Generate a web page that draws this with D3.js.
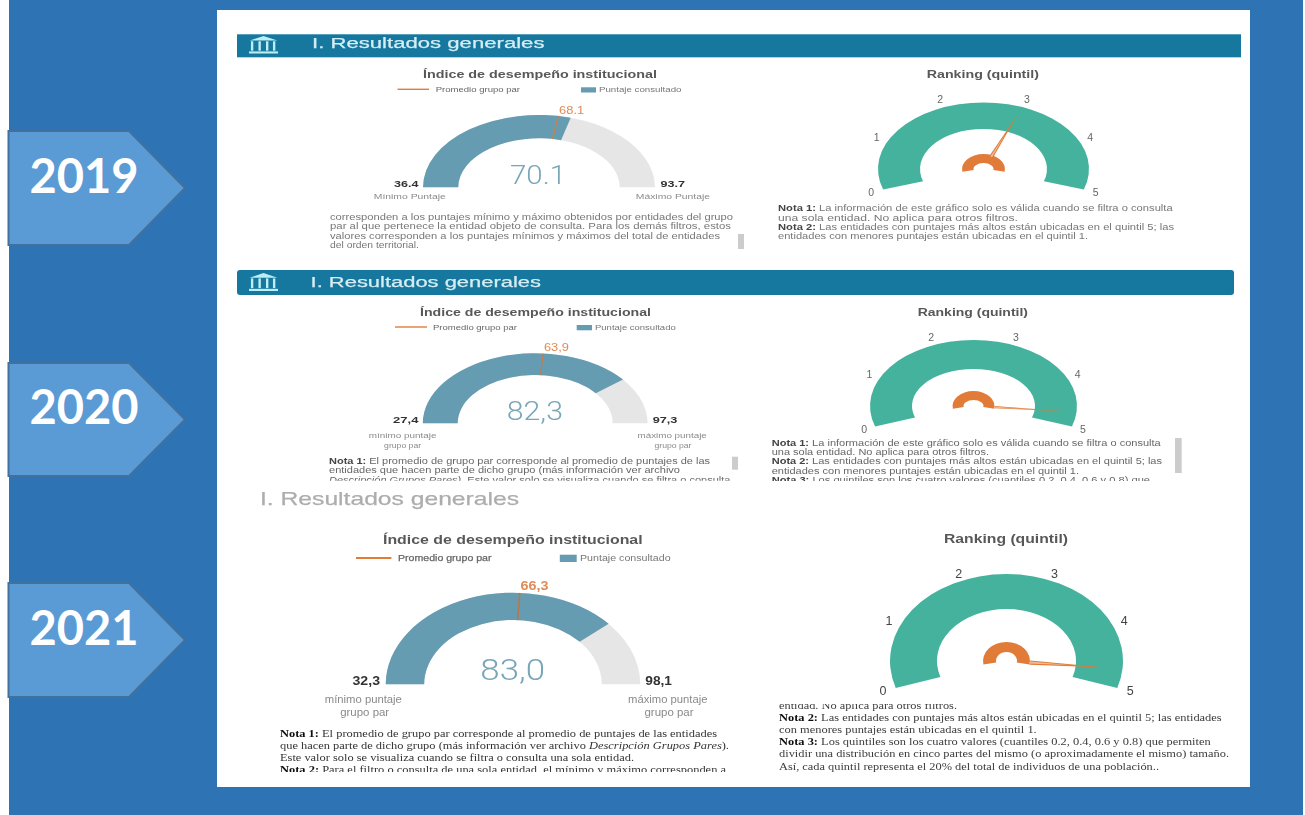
<!DOCTYPE html>
<html lang="es">
<head>
<meta charset="utf-8">
<title>Resultados generales 2019-2021</title>
<script src="https://cdn.jsdelivr.net/npm/d3@7/dist/d3.min.js"></script>
<style>
html,body{margin:0;padding:0;background:#fff;overflow:hidden}
svg{display:block}
</style>
</head>
<body>
<svg id="chart" width="1305" height="815"></svg>
<script>
// ---------- data ----------
const years = ["2019", "2020", "2021"];
const scores = [70.1, 82.3, 83.0];
const groupAverages = [68.1, 63.9, 66.3];
const minimums = [36.4, 27.4, 32.3];
const maximums = [93.7, 97.3, 98.1];
const quintileValues = [3.0, 4.7, 4.7];
const quintileTicks = [0, 1, 2, 3, 4, 5];
const decimalMarks = [".", ",", ","];

const sectionTitle = "I. Resultados generales";
const gaugeTitle = "Índice de desempeño institucional";
const rankingTitle = "Ranking (quintil)";
const legendAverage = "Promedio grupo par";
const legendScore = "Puntaje consultado";
const minimumLabels = [["Mínimo Puntaje"], ["mínimo puntaje", "grupo par"], ["mínimo puntaje", "grupo par"]];
const maximumLabels = [["Máximo Puntaje"], ["máximo puntaje", "grupo par"], ["máximo puntaje", "grupo par"]];

const leftNotes = [
  [[["corresponden a los puntajes mínimo y máximo obtenidos por entidades del grupo"]],
   [["par al que pertenece la entidad objeto de consulta. Para los demás filtros, estos"]],
   [["valores corresponden a los puntajes mínimos y máximos del total de entidades"]],
   [["del orden territorial."]]],
  [[["Nota 1:", "b"], [" El promedio de grupo par corresponde al promedio de puntajes de las"]],
   [["entidades que hacen parte de dicho grupo (más información ver archivo"]],
   [["Descripción Grupos Pares).", "i"], [" Este valor solo se visualiza cuando se filtra o consulta"]]],
  [[["Nota 1:", "b"], [" El promedio de grupo par corresponde al promedio de puntajes de las entidades"]],
   [["que hacen parte de dicho grupo (más información ver archivo "], ["Descripción Grupos Pares", "i"], [")."]],
   [["Este valor solo se visualiza cuando se filtra o consulta una sola entidad."]],
   [["Nota 2:", "b"], [" Para el filtro o consulta de una sola entidad, el mínimo y máximo corresponden a"]]]
];
const rightNotes = [
  [[["Nota 1:", "b"], [" La información de este gráfico solo es válida cuando se filtra o consulta"]],
   [["una sola entidad. No aplica para otros filtros."]],
   [["Nota 2:", "b"], [" Las entidades con puntajes más altos están ubicadas en el quintil 5; las"]],
   [["entidades con menores puntajes están ubicadas en el quintil 1."]]],
  [[["Nota 1:", "b"], [" La información de este gráfico solo es válida cuando se filtra o consulta"]],
   [["una sola entidad. No aplica para otros filtros."]],
   [["Nota 2:", "b"], [" Las entidades con puntajes más altos están ubicadas en el quintil 5; las"]],
   [["entidades con menores puntajes están ubicadas en el quintil 1."]],
   [["Nota 3:", "b"], [" Los quintiles son los cuatro valores (cuantiles 0.2, 0.4, 0.6 y 0.8) que"]]],
  [[["entidad. No aplica para otros filtros."]],
   [["Nota 2:", "b"], [" Las entidades con puntajes más altos están ubicadas en el quintil 5; las entidades"]],
   [["con menores puntajes están ubicadas en el quintil 1."]],
   [["Nota 3:", "b"], [" Los quintiles son los cuatro valores (cuantiles 0.2, 0.4, 0.6 y 0.8) que permiten"]],
   [["dividir una distribución en cinco partes del mismo (o aproximadamente el mismo) tamaño."]],
   [["Así, cada quintil representa el 20% del total de individuos de una población.."]]]
];

// ---------- layout ----------
const layout = [
  { blur:0.7, tickFs:10.5, tickFill:"#666", avgLine:1.2, avgStroke:"#E07B39", avgWeight:400, legendLine:1.4, legendStroke:0,
    arrow:{top:131,bottom:245,tip:185,shoulder:129,text:193},
    header:{x0:237,x1:1241,y0:34.3,y1:57.3,r:0},
    sectionText:{x0:312,x1:544.5,y:48,fs:15.5,fill:"#d6edf4"},
    icon:{x:249,y:36,w:29,h:17.5},
    gaugeTitle:{x0:423,x1:657,y:78.3,fs:10.5},
    legend:{lx0:397.5,lx1:429,ly:89.3,tx0:435.7,tx1:520,ty:92,rx0:581,rx1:596,ry0:87.3,ry1:92.5,sx0:599,sx1:681.5,fs:7.2},
    gauge:{cx:539,cy:187.3,rx:116,ry:72.3,irx:80.7,iry:49},
    avg:{cx:571.6,y:114.3,fs:10,w:25},
    score:{x0:510,x1:566,y:183.5,fs:25},
    minV:{x0:394,x1:418.4,y:187.3,fs:9.5}, maxV:{x0:660.5,x1:685,y:187.3,fs:9.5},
    minL:{x0:373.8,x1:445.8,ys:[199.3],fs:7.2}, maxL:{x0:635.8,x1:710,ys:[199.3],fs:7.2},
    ln:{x:330,ys:[219.8,229.2,238.5,247.5],ends:[733,731,720,419],fs:9.1,clip:[205,254],font:"sans",fill:"#777"},
    sbL:{x:738,y0:234,y1:249},
    rTitle:{x0:926.7,x1:1039,y:78,fs:10.5},
    rank:{cx:983.5,cy:169,rx:105.5,ry:66.5,irx:63.5,iry:40,lrx:118,lry:75,prx:21.5,pry:15,pirx:10,piry:6,needle:92,base:21,nw:2.2},
    rn:{x:778,ys:[210.5,220.5,229.5,239],ends:[1172.7,1018,1174,1088],fs:9.1,clip:[198,254],font:"sans",fill:"#777"}
  },
  { blur:0.55, tickFs:10.5, tickFill:"#666", avgLine:1.4, avgStroke:"#C9794A", avgWeight:400, legendLine:1.4, legendStroke:0,
    arrow:{top:363,bottom:476,tip:185,shoulder:129,text:424},
    header:{x0:237,x1:1234,y0:270,y1:295,r:3},
    sectionText:{x0:310.6,x1:541,y:286.5,fs:15.5,fill:"#d6edf4"},
    icon:{x:249,y:273,w:29,h:18},
    gaugeTitle:{x0:420,x1:651,y:315.7,fs:10.5},
    legend:{lx0:395,lx1:427,ly:327,tx0:433,tx1:517,ty:330,rx0:576.7,rx1:592,ry0:325,ry1:330.3,sx0:595,sx1:675.7,fs:7.2},
    gauge:{cx:535.2,cy:423.3,rx:112.4,ry:70,irx:77.5,iry:48.3},
    avg:{cx:556.4,y:351,fs:10,w:25},
    score:{x0:506.7,x1:563,y:419.5,fs:25},
    minV:{x0:393,x1:418.4,y:423.3,fs:9.5}, maxV:{x0:652.7,x1:677.4,y:423.3,fs:9.5},
    minL:{x0:368.7,x1:436.4,ys:[438.3,448.3],fs:7.2,c:402.6,w:37}, maxL:{x0:637.5,x1:706.8,ys:[438.3,448.3],fs:7.2,c:673,w:37},
    ln:{x:329,ys:[464,473.3,482.7],ends:[710,680,730.5],fs:9.2,clip:[450,480.7],font:"sans",fill:"#666"},
    sbL:{x:732,y0:456.7,y1:469.7},
    sbR:{x:1175,y0:438,y1:473},
    rTitle:{x0:917.7,x1:1028,y:315.7,fs:10.5},
    rank:{cx:973.5,cy:406,rx:103.5,ry:66,irx:61.5,iry:37,lrx:115,lry:74,prx:21,pry:15,pirx:10,piry:6,needle:92,base:21,nw:1.8},
    rn:{x:771.7,ys:[445.7,455,464,473.7,482.7],ends:[1160.7,989,1162,1079,1150],fs:9.2,clip:[434,481],font:"sans",fill:"#666"}
  },
  { blur:0.35, tickFs:12.5, tickFill:"#444", avgLine:1.8, avgStroke:"#B9764A", avgWeight:700, legendLine:2, legendStroke:0.25,
    arrow:{top:583,bottom:697,tip:185,shoulder:129,text:645},
    header:null,
    sectionText:{x0:260,x1:519,y:505,fs:19,fill:"#adadad"},
    icon:null,
    gaugeTitle:{x0:383,x1:642.6,y:544,fs:13},
    legend:{lx0:356,lx1:391.4,ly:558,tx0:398,tx1:491.5,ty:561.3,rx0:559.8,rx1:576.7,ry0:554.7,ry1:562,sx0:580,sx1:670.6,fs:9.5},
    gauge:{cx:513,cy:684.3,rx:127.3,ry:91.6,irx:88.8,iry:64.3},
    avg:{cx:534.4,y:590,fs:12,w:28},
    score:{x0:480.3,x1:545,y:679.5,fs:30},
    minV:{x0:352.5,x1:380,y:684.7,fs:12}, maxV:{x0:645.3,x1:672,y:684.7,fs:12},
    minL:{x0:324.8,x1:401.9,ys:[703,716],fs:10,c:364.7,w:49}, maxL:{x0:628,x1:707.5,ys:[702.7,715.7],fs:10,c:669,w:49},
    ln:{x:280,ys:[737.3,749.3,761.3,773.3],ends:[717,729,634,726],fs:11.2,clip:[725,771.7],font:"serif",fill:"#333"},
    sbL:null,
    rTitle:{x0:944,x1:1068,y:543,fs:13},
    rank:{cx:1006.5,cy:661,rx:116.5,ry:87,irx:69.5,iry:52,lrx:130,lry:94,prx:23.5,pry:19,pirx:10.5,piry:9,needle:99,base:23.5,nw:2.8},
    rn:{x:779,ys:[708.7,720.7,733.4,745,757.4,770],ends:[957,1221.7,1036.7,1210.7,1229,1159],fs:11.2,clip:[704.5,787],font:"serif",fill:"#3c3c3c"}
  }
];
const rankingSweep = 108 * Math.PI / 180;   // gauge opens ±108° from the top
const colors = {bg:"#2E74B5",arrow:"#5B9BD5",arrowEdge:"#41719C",header:"#12789F",score:"#659CB1",rest:"#E6E6E6",rank:"#45B29D",accent:"#E07B39",muted:"#78A6B7"};
const SANS = "'Liberation Sans',Arial,sans-serif";
const SERIF = "'Liberation Serif','Times New Roman',serif";

// ---------- drawing ----------
const svg = d3.select("#chart");
const defs = svg.append("defs");

svg.append("rect").attr("width",1305).attr("height",815).attr("fill","#fff");
svg.append("rect").attr("x",9).attr("y",0).attr("width",1294).attr("height",815).attr("fill",colors.bg);
svg.append("rect").attr("x",217).attr("y",10).attr("width",1033).attr("height",777).attr("fill","#fff");

function fitted(g, text, x0, x1, y, fs, opts={}) {
  return g.append("text").attr("x",x0).attr("y",y).text(text)
    .attr("font-family",opts.font||SANS).attr("font-size",fs)
    .attr("font-weight",opts.weight||400).attr("fill",opts.fill||"#666")
    .attr("stroke",opts.stroke?(opts.fill||"#666"):null).attr("stroke-width",opts.stroke||null)
    .attr("textLength",Math.max(1,x1-x0)).attr("lengthAdjust","spacingAndGlyphs");
}
function centered(g, text, cx, y, fs, opts={}) {
  return g.append("text").attr("x",cx).attr("y",y).text(text).attr("text-anchor","middle")
    .attr("font-family",opts.font||SANS).attr("font-size",fs)
    .attr("font-weight",opts.weight||400).attr("fill",opts.fill||"#666");
}
function noteBlock(g, spec, lines, id) {
  defs.append("clipPath").attr("id",id).append("rect")
    .attr("x",spec.x-5).attr("y",spec.clip[0]).attr("width",480).attr("height",spec.clip[1]-spec.clip[0]);
  const box = g.append("g").attr("clip-path",`url(#${id})`);
  lines.forEach((runs,i) => {
    const t = box.append("text").attr("x",spec.x).attr("y",spec.ys[i])
      .attr("font-family",spec.font==="serif"?SERIF:SANS).attr("font-size",spec.fs).attr("fill",spec.fill)
      .attr("textLength",spec.ends[i]-spec.x).attr("lengthAdjust","spacingAndGlyphs")
      .attr("xml:space","preserve");
    runs.forEach(([s,style]) => {
      const ts = t.append("tspan").text(s);
      if (style==="b") ts.attr("font-weight",700).attr("fill",spec.font==="serif"?"#111":"#444");
      if (style==="i") ts.attr("font-style","italic");
    });
  });
}
// an annular sector whose horizontal and vertical radii differ, as in the flattened screenshots
function ellipseRing(g, cx, cy, a0, a1, rx, ry, irx, iry, fill) {
  const pt = (a,rxx,ryy)=>[cx+rxx*Math.sin(a), cy-ryy*Math.cos(a)];
  const [ox0,oy0]=pt(a0,rx,ry),[ox1,oy1]=pt(a1,rx,ry),[ix1,iy1]=pt(a1,irx,iry),[ix0,iy0]=pt(a0,irx,iry);
  const large = (a1-a0)>Math.PI?1:0;
  const d = `M${ox0},${oy0}A${rx},${ry} 0 ${large} 1 ${ox1},${oy1}L${ix1},${iy1}A${irx},${iry} 0 ${large} 0 ${ix0},${iy0}Z`;
  return g.append("path").attr("d",d).attr("fill",fill);
}

years.forEach((year,i) => {
  const L = layout[i];
  const soft = defs.append("filter").attr("id","soft"+i).attr("x","-5%").attr("y","-5%").attr("width","110%").attr("height","110%");
  soft.append("feGaussianBlur").attr("stdDeviation",L.blur);

  // year arrow
  const a = L.arrow, mid=(a.top+a.bottom)/2;
  const arrowLine = d3.line();
  svg.append("path").attr("d",arrowLine([[8.5,a.top],[a.shoulder,a.top],[a.tip,mid],[a.shoulder,a.bottom],[8.5,a.bottom]])+"Z")
    .attr("fill",colors.arrow).attr("stroke",colors.arrowEdge).attr("stroke-width",2);
  svg.append("text").attr("x",84).attr("y",a.text).attr("text-anchor","middle").text(year)
    .attr("font-family","Lato,'Open Sans',sans-serif").attr("font-weight",700).attr("font-size",47).attr("fill","#fff");

  const g = svg.append("g").attr("class","panel-"+year).attr("filter",`url(#soft${i})`);
  const col = colors;
  // section header
  if (L.header) {
    const h=L.header;
    g.append("rect").attr("x",h.x0).attr("y",h.y0).attr("width",h.x1-h.x0).attr("height",h.y1-h.y0).attr("rx",h.r).attr("fill",col.header);
  }
  if (L.icon) {
    const ic=L.icon, ig=g.append("g").attr("fill","#BDEDF5");
    const ix=d3.scaleLinear().domain([0,10]).range([ic.x,ic.x+ic.w]);
    const iy=d3.scaleLinear().domain([0,10]).range([ic.y,ic.y+ic.h]);
    ig.append("path").attr("d",d3.line()([[ix(0.2),iy(2.6)],[ix(5),iy(0)],[ix(9.8),iy(2.6)]])+"Z");
    [1,3.6,6.2,8.6].forEach(p=>ig.append("rect").attr("x",ix(p)-1).attr("y",iy(3)).attr("width",2.4).attr("height",iy(8.4)-iy(3)));
    ig.append("rect").attr("x",ix(0)).attr("y",iy(8.8)).attr("width",ic.w).attr("height",iy(10)-iy(8.8));
  }
  const st=L.sectionText;
  fitted(g,sectionTitle,st.x0,st.x1,st.y,st.fs,{fill:st.fill,stroke:0.25});

  // score gauge
  const gt=L.gaugeTitle;
  fitted(g,gaugeTitle,gt.x0,gt.x1,gt.y,gt.fs,{weight:700,fill:"#595959"});
  const lg=L.legend;
  g.append("line").attr("x1",lg.lx0).attr("x2",lg.lx1).attr("y1",lg.ly).attr("y2",lg.ly).attr("stroke",col.accent).attr("stroke-width",L.legendLine);
  fitted(g,legendAverage,lg.tx0,lg.tx1,lg.ty,lg.fs,{fill:"#666",stroke:L.legendStroke});
  g.append("rect").attr("x",lg.rx0).attr("y",lg.ry0).attr("width",lg.rx1-lg.rx0).attr("height",lg.ry1-lg.ry0).attr("fill",col.score);
  fitted(g,legendScore,lg.sx0,lg.sx1,lg.ty,lg.fs,{fill:"#777"});

  const G=L.gauge;
  const angle=d3.scaleLinear().domain([minimums[i],maximums[i]]).range([-Math.PI/2,Math.PI/2]);
  ellipseRing(g,G.cx,G.cy,-Math.PI/2,Math.PI/2,G.rx,G.ry,G.irx,G.iry,col.rest);
  ellipseRing(g,G.cx,G.cy,-Math.PI/2,angle(scores[i]),G.rx,G.ry,G.irx,G.iry,col.score);
  const av=angle(groupAverages[i]);
  g.append("line")
    .attr("x1",G.cx+G.irx*Math.sin(av)).attr("y1",G.cy-G.iry*Math.cos(av))
    .attr("x2",G.cx+G.rx*Math.sin(av)).attr("y2",G.cy-G.ry*Math.cos(av))
    .attr("stroke",L.avgStroke).attr("stroke-width",L.avgLine).attr("opacity",.85);
  const fmt=v=>v.toFixed(1).replace(".",decimalMarks[i]);
  centered(g,fmt(groupAverages[i]),L.avg.cx,L.avg.y,L.avg.fs,{fill:"#E08A55",weight:L.avgWeight}).attr("textLength",L.avg.w).attr("lengthAdjust","spacingAndGlyphs");
  fitted(g,fmt(scores[i]),L.score.x0,L.score.x1,L.score.y,L.score.fs,{font:"Roboto,sans-serif",weight:300,fill:col.muted});
  fitted(g,fmt(minimums[i]),L.minV.x0,L.minV.x1,L.minV.y,L.minV.fs,{weight:700,fill:"#333"});
  fitted(g,fmt(maximums[i]),L.maxV.x0,L.maxV.x1,L.maxV.y,L.maxV.fs,{weight:700,fill:"#333"});
  [[L.minL,minimumLabels[i]],[L.maxL,maximumLabels[i]]].forEach(([s,lines])=>{
    lines.forEach((t,k)=>{
      if(k===0) fitted(g,t,s.x0,s.x1,s.ys[k],s.fs,{fill:"#8a8a8a"});
      else fitted(g,t,s.c-s.w/2,s.c+s.w/2,s.ys[k],s.fs,{fill:"#8a8a8a"});
    });
  });
  noteBlock(g,L.ln,leftNotes[i],"cl"+i);
  if (L.sbL) g.append("rect").attr("x",L.sbL.x).attr("y",L.sbL.y0).attr("width",6).attr("height",L.sbL.y1-L.sbL.y0).attr("fill","#ccc");

  // ranking gauge
  const rt=L.rTitle;
  fitted(g,rankingTitle,rt.x0,rt.x1,rt.y,rt.fs,{weight:700,fill:"#595959"});
  const R=L.rank;
  const rAngle=d3.scaleLinear().domain([0,5]).range([-rankingSweep,rankingSweep]);
  ellipseRing(g,R.cx,R.cy,rAngle(0),rAngle(5),R.rx,R.ry,R.irx,R.iry,col.rank);
  quintileTicks.forEach(t=>{
    const a=rAngle(t);
    centered(g,String(t),R.cx+R.lrx*Math.sin(a),R.cy-R.lry*Math.cos(a)+L.tickFs*.36,L.tickFs,{fill:L.tickFill});
  });
  ellipseRing(g,R.cx,R.cy,-1.75,1.75,R.prx,R.pry,R.pirx,R.piry,col.accent);
  const na=rAngle(quintileValues[i]);
  const ratio=R.ry/R.rx, sn=Math.sin(na), cn=Math.cos(na);
  const P=(r,off)=>[R.cx+r*sn+off*cn, R.cy-(r*cn-off*sn)*ratio];
  g.append("path").attr("d",d3.line()([P(R.base,-R.nw),P(R.base,R.nw),P(R.needle,0)])+"Z").attr("fill",col.accent);
  // pale core of the needle, visible near the pivot
  g.append("path").attr("d",d3.line()([P(R.base,-R.nw*.45),P(R.base,R.nw*.45),P(R.base+(R.needle-R.base)*.55,0)])+"Z").attr("fill","#fff").attr("opacity",.5);
  noteBlock(g,L.rn,rightNotes[i],"cr"+i);
  if (L.sbR) g.append("rect").attr("x",L.sbR.x).attr("y",L.sbR.y0).attr("width",6.7).attr("height",L.sbR.y1-L.sbR.y0).attr("fill","#ccc");
});
</script>
</body>
</html>
